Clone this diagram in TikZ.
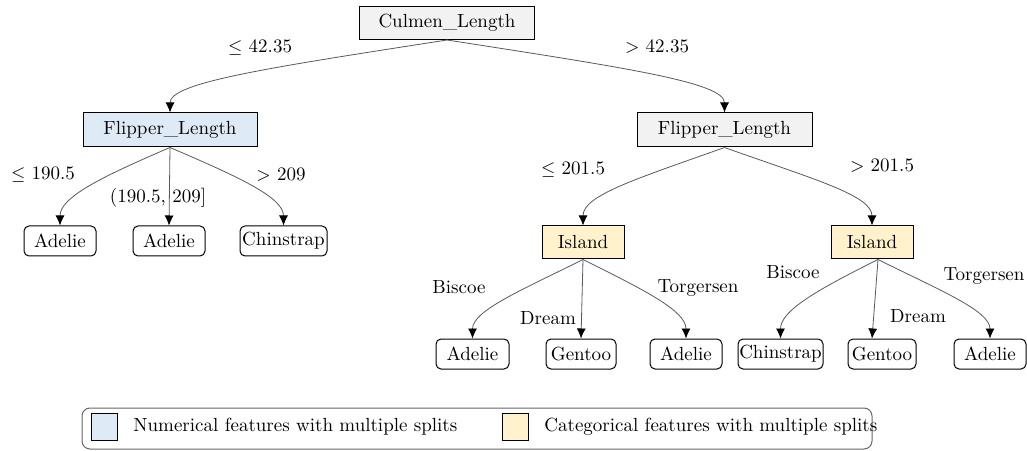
\documentclass[tikz,border=0pt]{standalone}
\usetikzlibrary{arrows.meta}
\definecolor{grayfill}{HTML}{F2F2F2}
\definecolor{bluefill}{HTML}{DEEAF6}
\definecolor{yellowfill}{HTML}{FFF2CC}
\begin{document}
\begin{tikzpicture}[x=0.5pt,y=0.5pt, font=\fontsize{9.5}{11}\selectfont,
  feat/.style={draw=black, line width=0.5pt, minimum height=16.5pt, inner sep=0pt},
  leaf/.style={draw=black, line width=0.5pt, rounded corners=2.5pt, minimum height=15pt, inner sep=0pt},
  edge/.style={draw=black!65, line width=0.4pt, -{Latex[length=5pt,width=4.5pt,black]}},
  lbl/.style={inner sep=0pt},
  legbox/.style={draw=black, line width=0.5pt, minimum width=13pt, minimum height=13.5pt, inner sep=0pt}]
\useasboundingbox (0,0) rectangle (1027,450);
% feature nodes
\node[feat, fill=grayfill, minimum width=87.5pt] (root) at (447,427) {Culmen\_Length};
\node[feat, fill=bluefill, minimum width=87pt, minimum height=17pt] (fl1) at (170,320) {Flipper\_Length};
\node[feat, fill=grayfill, minimum width=87.5pt, minimum height=17pt] (fl2) at (724.5,320) {Flipper\_Length};
\node[feat, fill=yellowfill, minimum width=41pt] (is1) at (583,207.5) {Island};
\node[feat, fill=yellowfill, minimum width=41pt] (is2) at (872,207.5) {Island};
% leaves
\node[leaf, minimum width=36pt] (a1) at (60,209) {Adelie};
\node[leaf, minimum width=36pt] (a2) at (169,209) {Adelie};
\node[leaf, minimum width=43.5pt] (c1) at (283.5,209) {Chinstrap};
\node[leaf, minimum width=36.5pt] (a3) at (472.5,96) {Adelie};
\node[leaf, minimum width=35pt] (g1) at (581,96) {Gentoo};
\node[leaf, minimum width=36pt] (a4) at (686,96) {Adelie};
\node[leaf, minimum width=42.5pt] (c2) at (780.5,96) {Chinstrap};
\node[leaf, minimum width=34pt] (g2) at (882,96) {Gentoo};
\node[leaf, minimum width=36pt] (a5) at (990,96) {Adelie};
% edges
\draw[edge] (root.south) .. controls +(-180,-28) and +(0,30) .. (fl1.north);
\draw[edge] (root.south) .. controls +(180,-28) and +(0,30) .. (fl2.north);
\draw[edge] (fl1.south) .. controls +(-70,-30) and +(0,28) .. (a1.north);
\draw[edge] (fl1.south) -- (a2.north);
\draw[edge] (fl1.south) .. controls +(70,-30) and +(0,28) .. (c1.north);
\draw[edge] (fl2.south) .. controls +(-90,-32) and +(0,30) .. (is1.north);
\draw[edge] (fl2.south) .. controls +(90,-32) and +(0,30) .. (is2.north);
\draw[edge] (is1.south) .. controls +(-60,-30) and +(0,28) .. (a3.north);
\draw[edge] (is1.south) -- (g1.north);
\draw[edge] (is1.south) .. controls +(60,-30) and +(0,28) .. (a4.north);
\draw[edge] ([xshift=3]is2.south) .. controls +(-60,-30) and +(0,28) .. (c2.north);
\draw[edge] ([xshift=3]is2.south) -- ([xshift=-5]g2.north);
\draw[edge] ([xshift=3]is2.south) .. controls +(60,-30) and +(0,28) .. (a5.north);
% edge labels
\node[lbl] (l1) at (260,403) {$\leq$ 42.35};
\node[lbl] (l2) at (657,403) {$>$ 42.35};
\node[lbl] (l3) at (43,275) {$\leq$ 190.5};
\node[lbl] (l4) at (158,252) {(190.5, 209]};
\node[lbl] (l5) at (281,275) {$>$ 209};
\node[lbl] (l6) at (573,280) {$\leq$ 201.5};
\node[lbl] (l7) at (882,284) {$>$ 201.5};
\node[lbl] (l8) at (459,163) {Biscoe};
\node[lbl] (l9) at (548,132) {Dream};
\node[lbl] (l10) at (698,162) {Torgersen};
\node[lbl] (l11) at (793,178) {Biscoe};
\node[lbl] (l12) at (918,134) {Dream};
\node[lbl] (l13) at (984,174) {Torgersen};
% legend
\draw[black!60, line width=0.5pt, rounded corners=4pt] (82,1) rectangle (872,42);
\node[legbox, fill=bluefill] (lb1) at (104,23) {};
\node[lbl, anchor=west] (lt1) at (133,23) {Numerical features with multiple splits};
\node[legbox, fill=yellowfill] (lb2) at (515,23) {};
\node[lbl, anchor=west] (lt2) at (544,23) {Categorical features with multiple splits};
\end{tikzpicture}
\end{document}
